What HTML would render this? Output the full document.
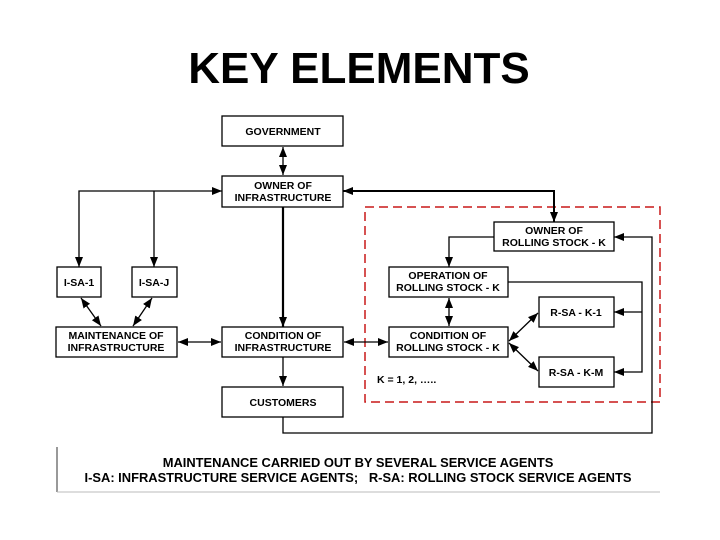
<!DOCTYPE html>
<html><head><style>
html,body{margin:0;padding:0;background:#fff;}
svg{display:block;font-family:"Liberation Sans",Arial,sans-serif;}
</style></head><body>
<svg width="720" height="540" viewBox="0 0 720 540" xmlns="http://www.w3.org/2000/svg">
<defs>
<marker id="b" viewBox="0 0 10 10" refX="10" refY="5" markerWidth="10" markerHeight="10" orient="auto-start-reverse" markerUnits="userSpaceOnUse"><path d="M0,1L10,5L0,9z" fill="#000"/></marker>
</defs>
<text x="359" y="83" text-anchor="middle" font-size="44" font-weight="bold">KEY ELEMENTS</text>

<rect x="365" y="207" width="295" height="195" fill="none" stroke="#c81818" stroke-width="1.5" stroke-dasharray="9,5"/>

<g fill="#fff" stroke="#000" stroke-width="1.3">
<rect x="222" y="116" width="121" height="30"/>
<rect x="222" y="176" width="121" height="31"/>
<rect x="57" y="267" width="44" height="30"/>
<rect x="132" y="267" width="45" height="30"/>
<rect x="56" y="327" width="121" height="30"/>
<rect x="222" y="327" width="121" height="30"/>
<rect x="222" y="387" width="121" height="30"/>
<rect x="494" y="222" width="120" height="29"/>
<rect x="389" y="267" width="119" height="30"/>
<rect x="539" y="297" width="75" height="30"/>
<rect x="389" y="327" width="119" height="30"/>
<rect x="539" y="357" width="75" height="30"/>
</g>

<g font-size="10.5" font-weight="bold" text-anchor="middle">
<text x="283" y="135">GOVERNMENT</text>
<text x="283" y="189">OWNER OF</text><text x="283" y="201">INFRASTRUCTURE</text>
<text x="79" y="286">I-SA-1</text>
<text x="154" y="286">I-SA-J</text>
<text x="116" y="339">MAINTENANCE OF</text><text x="116" y="351">INFRASTRUCTURE</text>
<text x="283" y="339">CONDITION OF</text><text x="283" y="351">INFRASTRUCTURE</text>
<text x="283" y="406">CUSTOMERS</text>
<text x="554" y="234">OWNER OF</text><text x="554" y="246">ROLLING STOCK - K</text>
<text x="448" y="279">OPERATION OF</text><text x="448" y="291">ROLLING STOCK - K</text>
<text x="576" y="316">R-SA - K-1</text>
<text x="448" y="339">CONDITION OF</text><text x="448" y="351">ROLLING STOCK - K</text>
<text x="576" y="376">R-SA - K-M</text>
<text x="377" y="383" text-anchor="start">K = 1, 2, …..</text>
</g>

<g fill="none" stroke="#000">
<line x1="283" y1="147" x2="283" y2="175" stroke-width="1.3" marker-start="url(#b)" marker-end="url(#b)"/>
<path d="M79,267V191H222" stroke-width="1.3" marker-end="url(#b)"/>
<line x1="79" y1="258" x2="79" y2="267" marker-end="url(#b)"/>
<path d="M154,191V267" stroke-width="1.3" marker-end="url(#b)"/>
<path d="M554,222V191H343" stroke-width="2" marker-end="url(#b)"/>
<line x1="554" y1="205" x2="554" y2="222" marker-end="url(#b)"/>
<line x1="283" y1="207" x2="283" y2="327" stroke-width="2.2" marker-end="url(#b)"/>
<line x1="81" y1="298" x2="101" y2="326" stroke-width="1.3" marker-start="url(#b)" marker-end="url(#b)"/>
<line x1="152" y1="298" x2="133" y2="326" stroke-width="1.3" marker-start="url(#b)" marker-end="url(#b)"/>
<line x1="178" y1="342" x2="221" y2="342" stroke-width="1.3" marker-start="url(#b)" marker-end="url(#b)"/>
<line x1="344" y1="342" x2="388" y2="342" stroke-width="1.3" marker-start="url(#b)" marker-end="url(#b)"/>
<line x1="283" y1="357" x2="283" y2="386" stroke-width="1.3" marker-end="url(#b)"/>
<path d="M283,417V433H652V237H614" stroke-width="1.3" marker-end="url(#b)"/>
<path d="M494,237H449V267" stroke-width="1.3" marker-end="url(#b)"/>
<line x1="449" y1="298" x2="449" y2="326" stroke-width="1.3" marker-start="url(#b)" marker-end="url(#b)"/>
<path d="M508,282H642V372H614" stroke-width="1.3" marker-end="url(#b)"/>
<line x1="642" y1="312" x2="614" y2="312" stroke-width="1.3" marker-end="url(#b)"/>
<line x1="509" y1="341" x2="538" y2="313" stroke-width="1.3" marker-start="url(#b)" marker-end="url(#b)"/>
<line x1="509" y1="343" x2="538" y2="371" stroke-width="1.3" marker-start="url(#b)" marker-end="url(#b)"/>
</g>

<line x1="57" y1="447" x2="57" y2="492" stroke="#333" stroke-width="1"/>
<line x1="57" y1="492" x2="660" y2="492" stroke="#bbb" stroke-width="1"/>
<g font-size="12.9" font-weight="bold" text-anchor="middle">
<text x="358" y="467">MAINTENANCE CARRIED OUT BY SEVERAL SERVICE AGENTS</text>
<text x="358" y="482" xml:space="preserve">I-SA: INFRASTRUCTURE SERVICE AGENTS;   R-SA: ROLLING STOCK SERVICE AGENTS</text>
</g>
</svg>
</body></html>
